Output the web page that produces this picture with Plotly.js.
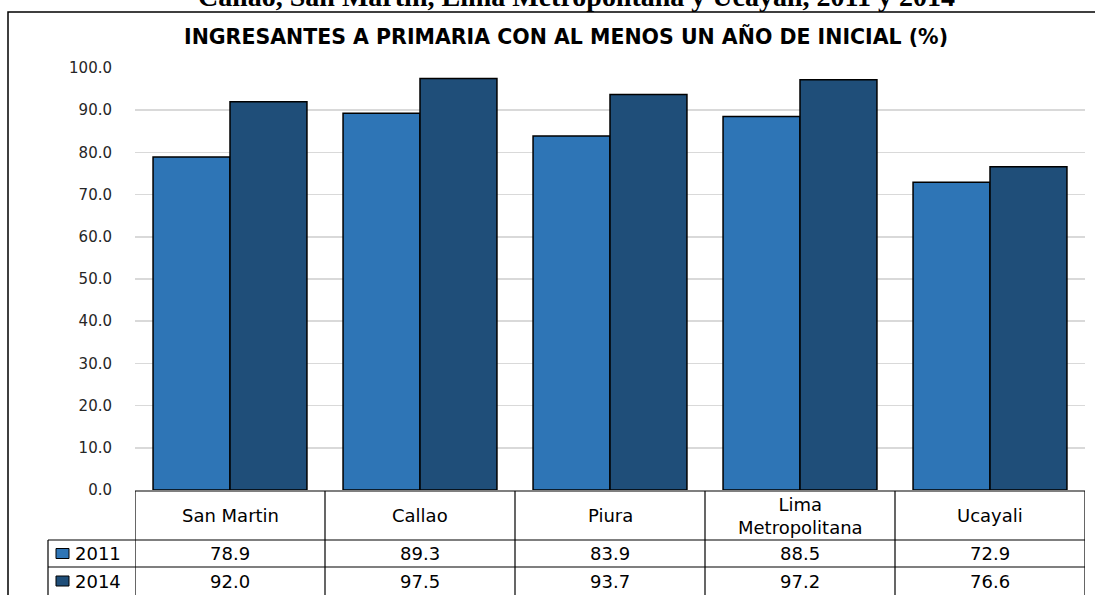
<!DOCTYPE html>
<html>
<head>
<meta charset="utf-8">
<script src="https://cdn.plot.ly/plotly-3.0.1.min.js"></script>
<style>html,body{margin:0;padding:0;background:#fff;}#chart{width:1095px;height:595px;}</style>
</head>
<body>
<div id="chart"></div>
<script>
const categories = ['San Martin', 'Callao', 'Piura', 'Lima Metropolitana', 'Ucayali'];
const headerLabels = ['San Martin', 'Callao', 'Piura', 'Lima<br>Metropolitana', 'Ucayali'];
const seriesNames = ['2011', '2014'];
const values2011 = [78.9, 89.3, 83.9, 88.5, 72.9];
const values2014 = [92.0, 97.5, 93.7, 97.2, 76.6];
const seriesColors = ['#2E75B6', '#1F4E79'];
const pageTitle = 'Callao, San Martín, Lima Metropolitana y Ucayali, 2011 y 2014';
const chartTitle = 'INGRESANTES A PRIMARIA CON AL MENOS UN AÑO DE INICIAL (%)';

const seriesValues = [values2011, values2014];

// geometry helpers (pixel -> paper)
const W = 1095, H = 595;
const mL = 135, mR = 10, mT = 68, mB = 105;
const pw = W - mL - mR, ph = H - mT - mB;
const px = x => (x - mL) / pw;
const py = y => (H - mB - y) / ph;

const traces = seriesValues.map((vals, i) => ({
  type: 'bar',
  name: seriesNames[i],
  x: categories,
  y: vals,
  marker: {color: seriesColors[i], line: {color: '#000000', width: 1.5}},
  hoverinfo: 'x+y+name'
}));

const shapes = [];
const annotations = [];
const lineStyle = {color: '#000000', width: 1.2};

// outer chart border
shapes.push({type: 'rect', xref: 'paper', yref: 'paper', x0: px(8), x1: px(1102), y0: py(605), y1: py(12), line: {color: '#000000', width: 1.5}, fillcolor: 'rgba(0,0,0,0)', layer: 'above'});

// table grid lines
const rowLines = [491, 540, 567, 596];
rowLines.forEach((y, k) => {
  shapes.push({type: 'line', xref: 'paper', yref: 'paper', x0: k === 0 ? px(mL) : px(48), x1: 1, y0: py(y), y1: py(y), line: lineStyle});
});
for (let i = 0; i <= categories.length; i++) {
  shapes.push({type: 'line', xref: 'x', yref: 'paper', x0: i - 0.5, x1: i - 0.5, y0: py(491), y1: py(600), line: lineStyle});
}
shapes.push({type: 'line', xref: 'paper', yref: 'paper', x0: px(48), x1: px(48), y0: py(540), y1: py(600), line: lineStyle});

const tableFont = {family: 'DejaVu Sans, Verdana, sans-serif', size: 18, color: '#000000'};

// header row
headerLabels.forEach((lab, i) => {
  annotations.push({xref: 'x', yref: 'paper', x: categories[i], y: py(515.5), text: lab, showarrow: false, xanchor: 'center', yanchor: 'middle', font: tableFont});
});
// value rows
const rowCenters = [553.5, 581];
seriesValues.forEach((vals, s) => {
  vals.forEach((v, i) => {
    annotations.push({xref: 'x', yref: 'paper', x: categories[i], y: py(rowCenters[s]), text: v.toFixed(1), showarrow: false, xanchor: 'center', yanchor: 'middle', font: tableFont});
  });
  // legend key
  shapes.push({type: 'rect', xref: 'paper', yref: 'paper', x0: px(56), x1: px(69), y0: py(rowCenters[s] + 5), y1: py(rowCenters[s] - 5), fillcolor: seriesColors[s], line: {color: '#000000', width: 1}});
  annotations.push({xref: 'paper', yref: 'paper', x: px(73), y: py(rowCenters[s]), text: seriesNames[s], showarrow: false, xanchor: 'left', yanchor: 'middle', font: tableFont});
});

// titles
annotations.push({xref: 'paper', yref: 'paper', x: px(566), y: py(37), text: '<b>' + chartTitle + '</b>', showarrow: false, xanchor: 'center', yanchor: 'middle', font: {family: 'DejaVu Sans, sans-serif', size: 20.5, color: '#000000'}});
annotations.push({xref: 'paper', yref: 'paper', x: px(576), y: py(14), text: '<b>' + pageTitle + '</b>', showarrow: false, xanchor: 'center', yanchor: 'bottom', font: {family: 'Liberation Serif, Times New Roman, serif', size: 28, color: '#000000'}});

const layout = {
  width: W, height: H,
  margin: {l: mL, r: mR, t: mT, b: mB},
  paper_bgcolor: '#ffffff', plot_bgcolor: '#ffffff',
  showlegend: false,
  barmode: 'group', bargap: 0.19, bargroupgap: 0,
  xaxis: {type: 'category', range: [-0.5, 4.5], showticklabels: false, showgrid: false, zeroline: false, showline: false, ticks: ''},
  yaxis: {range: [0, 100], dtick: 10, tick0: 0, tickformat: '.1f', showgrid: true, gridcolor: '#D9D9D9', gridwidth: 1.5, zeroline: false, showline: false,
          ticks: 'outside', ticklen: 19, tickcolor: 'rgba(0,0,0,0)', tickfont: {family: 'DejaVu Sans, Verdana, sans-serif', size: 15, color: '#262626'}},
  shapes: shapes,
  annotations: annotations
};

Plotly.newPlot('chart', traces, layout, {displayModeBar: false, staticPlot: true});
</script>
</body>
</html>
